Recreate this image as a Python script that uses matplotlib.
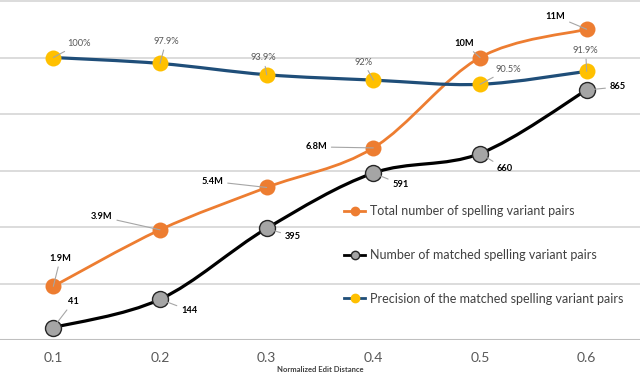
import numpy as np
import matplotlib
matplotlib.use("Agg")
import matplotlib.pyplot as plt
from matplotlib.path import Path
from matplotlib.patches import PathPatch
from matplotlib.lines import Line2D


categories = ["0.1", "0.2", "0.3", "0.4", "0.5", "0.6"]

total_pairs = [1.9e6, 3.9e6, 5.4e6, 6.8e6, 10e6, 11e6]
total_labels = ["1.9M", "3.9M", "5.4M", "6.8M", "10M", "11M"]

matched_pairs = [44, 144, 395, 591, 660, 885]
matched_labels = ["41", "144", "395", "591", "660", "865"]

precision = [100, 97.9, 93.9, 92, 90.5, 95.1]
precision_labels = ["100%", "97.9%", "93.9%", "92%", "90.5%", "91.9%"]

# label offsets in pixels (dx, dy) from each point
total_offsets = [(7, 28), (-58, 13), (-54, 6), (-57, 1), (-16, 14), (-31, 13)]
matched_offsets = [(20, 26), (29, -11), (26, -8), (27, -11), (25, -15), (31, 3)]
precision_offsets = [(26, 14), (6, 22), (-3, 17), (-10, 18), (28, 15), (-1, 21)]

ORANGE = "#ED7D31"
GRAY_MARKER = "#A5A5A5"
BLUE = "#1F4E79"
YELLOW = "#FFC000"
LEADER = "#A6A6A6"
FONT = "Lato"

plt.rcParams["font.family"] = [FONT, "DejaVu Sans"]


def smooth_path(xs, ys):
    # Catmull-Rom style bezier, like Excel's smoothed line
    pts = np.column_stack([xs, ys]).astype(float)
    n = len(pts)
    verts = [pts[0]]
    codes = [Path.MOVETO]
    for i in range(n - 1):
        p0 = pts[i - 1] if i > 0 else pts[i]
        p1 = pts[i]
        p2 = pts[i + 1]
        p3 = pts[i + 2] if i + 2 < n else pts[i + 1]
        c1 = p1 + (p2 - p0) / 6.0
        c2 = p2 - (p3 - p1) / 6.0
        verts += [c1, c2, p2]
        codes += [Path.CURVE4] * 3
    return Path(verts, codes)


def draw_series(ax, ys, line_color, lw, face, edge, labels, offsets, bold, text_color):
    xs = np.arange(len(ys))
    patch = PathPatch(smooth_path(xs, ys), facecolor="none", edgecolor=line_color,
                      lw=lw, capstyle="round", joinstyle="round", zorder=2)
    ax.add_patch(patch)
    ax.plot(xs, ys, linestyle="none", marker="o", markersize=11.5,
            markerfacecolor=face, markeredgecolor=edge,
            markeredgewidth=1.0 if edge != face else 0, zorder=3)
    for x, y, lab, off in zip(xs, ys, labels, offsets):
        ax.annotate(lab, xy=(x, y), xytext=off, textcoords="offset pixels",
                    ha="center", va="center", fontsize=6.7,
                    fontweight="bold" if bold else "normal", color=text_color,
                    arrowprops=dict(arrowstyle="-", color=LEADER, lw=0.8,
                                    shrinkA=1, shrinkB=0),
                    zorder=4)


fig = plt.figure(figsize=(6.4, 3.75), dpi=100)
ax = fig.add_axes([0, 35 / 375, 1, 339 / 375])
ax2 = ax.twinx()
ax3 = ax.twinx()

for a in (ax, ax2, ax3):
    a.set_xlim(-0.5, 5.5)
    a.set_yticks([])
    for s in a.spines.values():
        s.set_visible(False)
    a.patch.set_visible(False)

ax.set_ylim(0, 12e6)
ax2.set_ylim(0, 1200)
ax3.set_ylim(0, 120)

for g in np.arange(2e6, 12.1e6, 2e6):
    ax.axhline(g, color="#D9D9D9", lw=1.3, zorder=0, clip_on=False)
ax.axhline(0, color="#BFBFBF", lw=1.5, zorder=0)

ax.set_xticks(range(len(categories)))
ax.set_xticklabels(categories, fontsize=10, color="#595959")
ax.tick_params(axis="x", length=0, pad=9)
ax.set_xlabel("Normalized Edit Distance", fontsize=5.5, fontweight="bold",
              color="#404040", labelpad=1)

draw_series(ax, total_pairs, ORANGE, 2.0, ORANGE, ORANGE,
            total_labels, total_offsets, True, "black")
draw_series(ax2, matched_pairs, "black", 2.3, GRAY_MARKER, "#262626",
            matched_labels, matched_offsets, True, "black")
draw_series(ax3, precision, BLUE, 2.3, YELLOW, YELLOW,
            precision_labels, precision_offsets, False, "#595959")

handles = [
    Line2D([], [], color=ORANGE, lw=2, marker="o", markersize=6,
           markerfacecolor=ORANGE, markeredgecolor=ORANGE),
    Line2D([], [], color="black", lw=2, marker="o", markersize=6,
           markerfacecolor=GRAY_MARKER, markeredgecolor="#262626"),
    Line2D([], [], color=BLUE, lw=2, marker="o", markersize=6,
           markerfacecolor=YELLOW, markeredgecolor=YELLOW),
]
names = ["Total number of spelling variant pairs",
         "Number of matched spelling variant pairs",
         "Precision of the matched spelling variant pairs"]
leg = ax3.legend(handles, names, loc="upper left",
                 bbox_to_anchor=(344 / 640, 1 - 205 / 375),
                 bbox_transform=fig.transFigure, frameon=False,
                 fontsize=9.0, labelspacing=2.55, handlelength=1.7,
                 handletextpad=0.4, borderpad=0, borderaxespad=0)
for t in leg.get_texts():
    t.set_color("#404040")

fig.savefig("out.png", dpi=100)
